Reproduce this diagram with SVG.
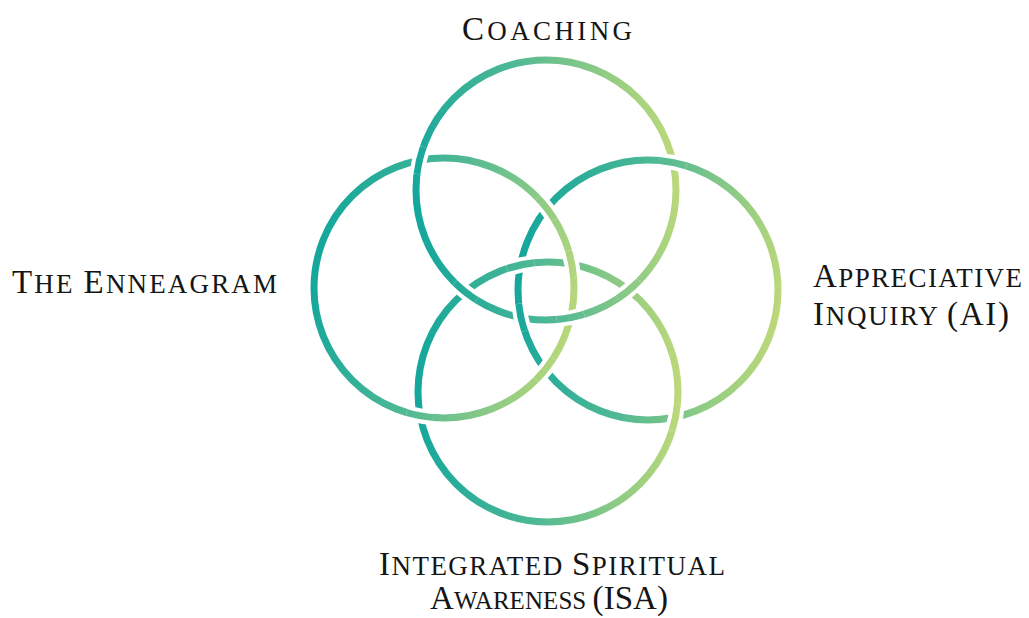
<svg xmlns="http://www.w3.org/2000/svg" xmlns:xlink="http://www.w3.org/1999/xlink" width="1029" height="618" viewBox="0 0 1029 618">
  <style>
    .ring { fill: none; stroke-width: 7; }
    .halo { fill: none; stroke: #ffffff; stroke-width: 15; }
    .label { font-family: "Liberation Serif", "DejaVu Serif", serif; fill: #151515; font-size: 27px; }
    .cap { font-size: 33px; }
    .tight { font-size: 25px; }
  </style>
  <defs>
    <linearGradient id="gT" gradientUnits="userSpaceOnUse" x1="416" y1="210" x2="676" y2="170">
      <stop offset="0" stop-color="#15a79c"/>
      <stop offset="0.45" stop-color="#4fb894"/>
      <stop offset="1" stop-color="#bbd87a"/>
    </linearGradient>
    <linearGradient id="gL" gradientUnits="userSpaceOnUse" x1="314" y1="270" x2="574" y2="330">
      <stop offset="0" stop-color="#15a79c"/>
      <stop offset="0.45" stop-color="#4fb894"/>
      <stop offset="1" stop-color="#bbd87a"/>
    </linearGradient>
    <linearGradient id="gR" gradientUnits="userSpaceOnUse" x1="518" y1="270" x2="778" y2="310">
      <stop offset="0" stop-color="#15a79c"/>
      <stop offset="0.45" stop-color="#4fb894"/>
      <stop offset="1" stop-color="#bbd87a"/>
    </linearGradient>
    <linearGradient id="gB" gradientUnits="userSpaceOnUse" x1="418" y1="392" x2="678" y2="392">
      <stop offset="0" stop-color="#15a79c"/>
      <stop offset="0.45" stop-color="#4fb894"/>
      <stop offset="1" stop-color="#bbd87a"/>
    </linearGradient>
    <circle id="cT" cx="546" cy="190" r="130"/>
    <circle id="cL" cx="444" cy="288" r="130"/>
    <circle id="cR" cx="648" cy="290" r="130"/>
    <circle id="cB" cx="548" cy="392" r="130"/>
    <clipPath id="x1"><circle cx="419.4" cy="160.3" r="14"/></clipPath>
    <clipPath id="x2"><circle cx="570.6" cy="317.7" r="14"/></clipPath>
    <clipPath id="x3"><circle cx="521.0" cy="317.5" r="14"/></clipPath>
    <clipPath id="x4"><circle cx="673.0" cy="162.5" r="14"/></clipPath>
    <clipPath id="x5"><circle cx="465.2" cy="291.8" r="14"/></clipPath>
    <clipPath id="x6"><circle cx="628.9" cy="290.2" r="14"/></clipPath>
    <clipPath id="x7"><circle cx="546.8" cy="208.4" r="14"/></clipPath>
    <clipPath id="x8"><circle cx="545.2" cy="369.6" r="14"/></clipPath>
    <clipPath id="x9"><circle cx="420.2" cy="415.8" r="14"/></clipPath>
    <clipPath id="x10"><circle cx="571.8" cy="264.2" r="14"/></clipPath>
    <clipPath id="x11"><circle cx="675.5" cy="417.0" r="14"/></clipPath>
    <clipPath id="x12"><circle cx="520.5" cy="265.0" r="14"/></clipPath>
  </defs>
  <rect width="1029" height="618" fill="#ffffff"/>

  <g id="node-coaching">
    <use href="#cT" class="ring" stroke="url(#gT)"/>
    <text class="label" x="462" y="40" textLength="170" lengthAdjust="spacing"><tspan class="cap">C</tspan>OACHING</text>
  </g>
  <g id="node-enneagram">
    <use href="#cL" class="ring" stroke="url(#gL)"/>
    <text class="label" x="12" y="293" textLength="265" lengthAdjust="spacing"><tspan class="cap">T</tspan>HE <tspan class="cap">E</tspan>NNEAGRAM</text>
  </g>
  <g id="node-appreciative-inquiry">
    <use href="#cR" class="ring" stroke="url(#gR)"/>
    <text class="label" x="813" y="287" textLength="209" lengthAdjust="spacing"><tspan class="cap">A</tspan>PPRECIATIVE</text>
    <text class="label" x="813" y="325" textLength="196" lengthAdjust="spacing"><tspan class="cap">I</tspan>NQUIRY <tspan class="cap">(AI)</tspan></text>
  </g>
  <g id="node-isa">
    <use href="#cB" class="ring" stroke="url(#gB)"/>
    <text class="label" x="379" y="575" textLength="346" lengthAdjust="spacing"><tspan class="cap">I</tspan>NTEGRATED <tspan class="cap">S</tspan>PIRITUAL</text>
    <text class="label" x="430" y="609" textLength="238" lengthAdjust="spacing"><tspan class="cap">A</tspan><tspan class="tight">WARENESS </tspan><tspan class="cap">(ISA)</tspan></text>
  </g>

  <g id="connectors">
    <g clip-path="url(#x1)"><use href="#cT" class="halo"/><use href="#cT" class="ring" stroke="url(#gT)"/></g>
    <g clip-path="url(#x2)"><use href="#cT" class="halo"/><use href="#cT" class="ring" stroke="url(#gT)"/></g>
    <g clip-path="url(#x3)"><use href="#cR" class="halo"/><use href="#cR" class="ring" stroke="url(#gR)"/></g>
    <g clip-path="url(#x4)"><use href="#cR" class="halo"/><use href="#cR" class="ring" stroke="url(#gR)"/></g>
    <g clip-path="url(#x5)"><use href="#cT" class="halo"/><use href="#cT" class="ring" stroke="url(#gT)"/></g>
    <g clip-path="url(#x6)"><use href="#cT" class="halo"/><use href="#cT" class="ring" stroke="url(#gT)"/></g>
    <g clip-path="url(#x7)"><use href="#cL" class="halo"/><use href="#cL" class="ring" stroke="url(#gL)"/></g>
    <g clip-path="url(#x8)"><use href="#cL" class="halo"/><use href="#cL" class="ring" stroke="url(#gL)"/></g>
    <g clip-path="url(#x9)"><use href="#cL" class="halo"/><use href="#cL" class="ring" stroke="url(#gL)"/></g>
    <g clip-path="url(#x10)"><use href="#cL" class="halo"/><use href="#cL" class="ring" stroke="url(#gL)"/></g>
    <g clip-path="url(#x11)"><use href="#cB" class="halo"/><use href="#cB" class="ring" stroke="url(#gB)"/></g>
    <g clip-path="url(#x12)"><use href="#cB" class="halo"/><use href="#cB" class="ring" stroke="url(#gB)"/></g>
  </g>
</svg>
